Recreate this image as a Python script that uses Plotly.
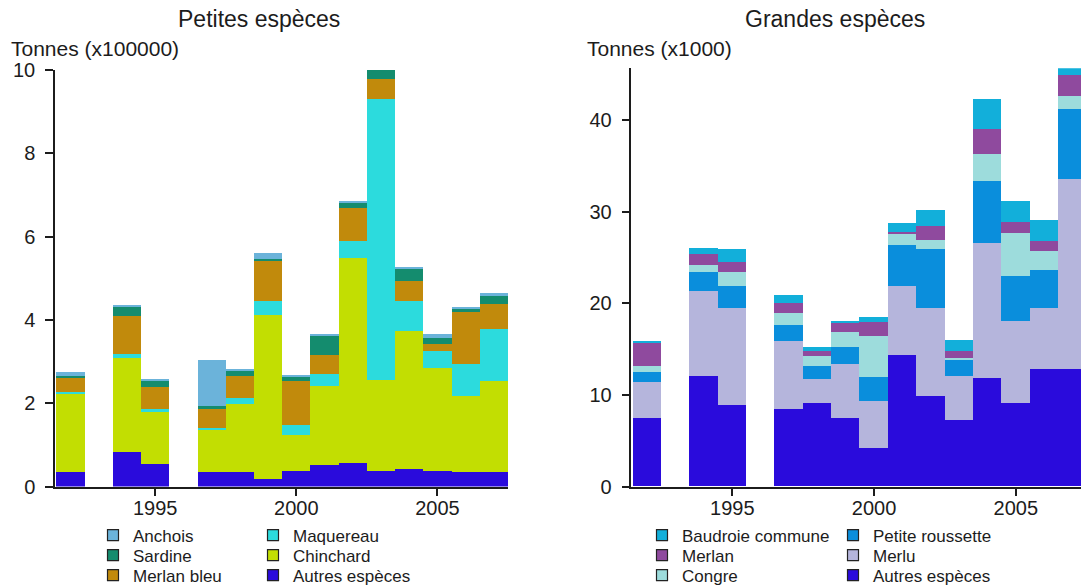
import plotly.graph_objects as go

# Years with landings (1993 and 1996 are absent)
years = [1992, 1994, 1995, 1997, 1998, 1999, 2000, 2001, 2002, 2003, 2004, 2005, 2006, 2007]

# Petites espèces, in units of 100000 t (stacked bottom to top)
petites_autres = [0.34, 0.83, 0.55, 0.34, 0.34, 0.19, 0.38, 0.51, 0.56, 0.38, 0.43, 0.38, 0.34, 0.34]
petites_chinchard = [1.88, 2.26, 1.23, 1.03, 1.65, 3.92, 0.86, 1.90, 4.92, 2.17, 3.30, 2.46, 1.84, 2.19]
petites_maquereau = [0.06, 0.08, 0.07, 0.04, 0.14, 0.35, 0.23, 0.30, 0.41, 6.75, 0.73, 0.41, 0.77, 1.26]
petites_merlan_bleu = [0.32, 0.93, 0.54, 0.45, 0.52, 0.96, 1.06, 0.45, 0.80, 0.48, 0.48, 0.18, 1.24, 0.59]
petites_sardine = [0.05, 0.21, 0.16, 0.07, 0.14, 0.04, 0.12, 0.47, 0.14, 0.23, 0.30, 0.13, 0.09, 0.20]
petites_anchois = [0.10, 0.03, 0.02, 1.10, 0.02, 0.15, 0.02, 0.02, 0.01, 0.01, 0.02, 0.09, 0.02, 0.06]

# Grandes espèces, in units of 1000 t (stacked bottom to top)
grandes_autres = [7.48, 12.04, 8.87, 8.47, 9.05, 7.48, 4.12, 14.34, 9.85, 7.23, 11.86, 9.12, 12.77, 12.77]
grandes_merlu = [3.91, 9.26, 10.58, 7.33, 2.70, 5.84, 5.19, 7.56, 9.60, 4.81, 14.64, 8.95, 6.68, 20.73]
grandes_roussette = [1.13, 2.10, 2.45, 1.83, 1.32, 1.83, 2.62, 4.40, 6.40, 1.72, 6.80, 4.83, 4.15, 7.70]
grandes_congre = [0.55, 0.80, 1.50, 1.28, 1.09, 1.64, 4.49, 1.20, 1.05, 0.22, 3.00, 4.75, 2.10, 1.40]
grandes_merlan = [2.62, 1.20, 1.10, 1.09, 0.62, 1.02, 1.46, 0.30, 1.55, 0.80, 2.70, 1.15, 1.05, 2.30]
grandes_baudroie = [0.08, 0.60, 1.35, 0.91, 0.37, 0.26, 0.62, 0.90, 1.65, 1.21, 3.26, 2.35, 2.35, 0.75]

x_ticks = [1995, 2000, 2005]
left_y_ticks = [0, 2, 4, 6, 8, 10]
right_y_ticks = [0, 10, 20, 30, 40]

# (name, values, colour) in stacking order, bottom first
petites_series = [
    ("Autres espèces", petites_autres, "#2A0BDC"),
    ("Chinchard", petites_chinchard, "#C2DE02"),
    ("Maquereau", petites_maquereau, "#2CDBDD"),
    ("Merlan bleu", petites_merlan_bleu, "#C18A0C"),
    ("Sardine", petites_sardine, "#148C6E"),
    ("Anchois", petites_anchois, "#6BB3DA"),
]
grandes_series = [
    ("Autres espèces", grandes_autres, "#2A0BDC"),
    ("Merlu", grandes_merlu, "#B5B5DC"),
    ("Petite roussette", grandes_roussette, "#0A8EDC"),
    ("Congre", grandes_congre, "#9DDCDC"),
    ("Merlan", grandes_merlan, "#8F4A9E"),
    ("Baudroie commune", grandes_baudroie, "#12AFDA"),
]

W, H = 1081, 585
FONT = "Liberation Sans, Arial, sans-serif"
INK = "#1c1c1c"


def px_x(p):
    return p / W


def px_y(p):
    return 1 - p / H


fig = go.Figure()

for name, vals, color in petites_series:
    fig.add_trace(go.Bar(x=years, y=vals, name=name, marker=dict(color=color, line=dict(width=0)),
                         xaxis="x", yaxis="y", showlegend=False))
for name, vals, color in grandes_series:
    fig.add_trace(go.Bar(x=years, y=vals, name=name, marker=dict(color=color, line=dict(width=0)),
                         xaxis="x2", yaxis="y2", showlegend=False))

# Legend key: two columns of three entries under each chart, top of the stack first.
# Each entry gets its own legend box so rows can be spaced freely.
col_text_x = {("x", 0): 133, ("x", 1): 293, ("x2", 0): 682, ("x2", 1): 873}
row_center_y = [535, 555, 575]

legend_layouts = {}
leg_n = 0
for series, axes in ((petites_series, ("x", "y")), (grandes_series, ("x2", "y2"))):
    for k, (name, _, color) in enumerate(reversed(series)):
        col, row = divmod(k, 3)
        leg_n += 1
        leg_id = "legend" if leg_n == 1 else f"legend{leg_n}"
        fig.add_trace(go.Scatter(
            x=[None], y=[None], mode="markers", name=name, legend=leg_id,
            xaxis=axes[0], yaxis=axes[1],
            marker=dict(symbol="square", size=11, color=color, line=dict(width=1.2, color="#222")),
        ))
        legend_layouts[leg_id] = dict(
            orientation="v", xanchor="left", yanchor="top", bgcolor="rgba(0,0,0,0)",
            font=dict(family=FONT, size=17, color=INK), borderwidth=0,
            x=px_x(col_text_x[(axes[0], col)] - 40), y=px_y(row_center_y[row] - 17.5),
        )

axis_common = dict(
    showline=True, linecolor=INK, linewidth=1.5, showgrid=False, zeroline=False,
    ticks="outside", tickcolor=INK, tickwidth=1.5, ticklen=8,
    tickfont=dict(family=FONT, size=20, color=INK),
)

fig.update_layout(
    width=W, height=H, margin=dict(l=0, r=0, t=0, b=0, autoexpand=False),
    paper_bgcolor="white", plot_bgcolor="white",
    barmode="stack", bargap=0,
    xaxis=dict(axis_common, domain=[px_x(55), px_x(508)], range=[1991.45, 2007.5],
               tickvals=x_ticks, anchor="y", ticklabelstandoff=-5),
    yaxis=dict(axis_common, domain=[px_y(486.5), px_y(70)], range=[0, 10],
               tickvals=left_y_ticks, anchor="x", ticklabelstandoff=6),
    xaxis2=dict(axis_common, domain=[px_x(631.4), 1.0], range=[1991.44, 2007.3],
                tickvals=x_ticks, anchor="y2", ticklabelstandoff=-5),
    yaxis2=dict(axis_common, domain=[px_y(486.5), px_y(68.3)], range=[0, 45.65],
                tickvals=right_y_ticks, anchor="x2", ticklabelstandoff=6),
    annotations=[
        dict(text="Petites espèces", x=px_x(259), y=px_y(19), xref="paper", yref="paper",
             xanchor="center", yanchor="middle", showarrow=False,
             font=dict(family=FONT, size=23, color=INK)),
        dict(text="Grandes espèces", x=px_x(835), y=px_y(19), xref="paper", yref="paper",
             xanchor="center", yanchor="middle", showarrow=False,
             font=dict(family=FONT, size=23, color=INK)),
        dict(text="Tonnes (x100000)", x=px_x(9), y=px_y(48), xref="paper", yref="paper",
             xanchor="left", yanchor="middle", showarrow=False,
             font=dict(family=FONT, size=21, color=INK)),
        dict(text="Tonnes (x1000)", x=px_x(585), y=px_y(48), xref="paper", yref="paper",
             xanchor="left", yanchor="middle", showarrow=False,
             font=dict(family=FONT, size=21, color=INK)),
    ],
)
fig.update_layout(**legend_layouts)

fig.write_html("out.html")
